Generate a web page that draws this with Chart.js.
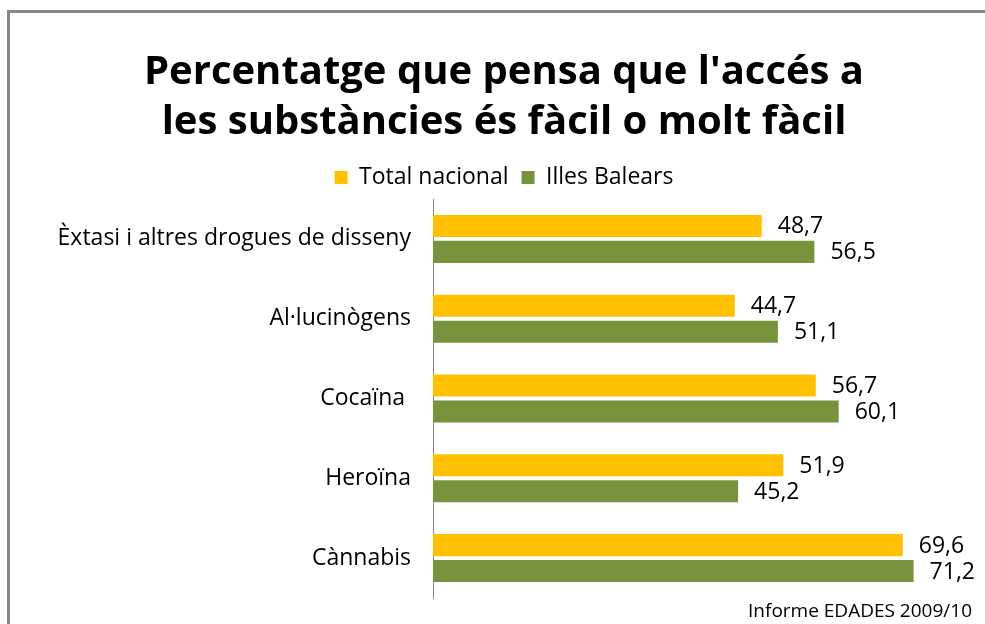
<!DOCTYPE html>
<html>
<head>
<meta charset="utf-8">
<script src="https://cdn.jsdelivr.net/npm/chart.js@4"></script>
<style>
  html, body { margin: 0; padding: 0; background: #fff; }
  #wrap { width: 985px; height: 624px; position: relative; }
</style>
</head>
<body>
<div id="wrap"><canvas id="chart"></canvas></div>
<script>
// Data
const categories = ['Èxtasi i altres drogues de disseny', 'Al·lucinògens', 'Cocaïna ', 'Heroïna', 'Cànnabis'];
const totalNacional = [48.7, 44.7, 56.7, 51.9, 69.6];
const illesBalears = [56.5, 51.1, 60.1, 45.2, 71.2];
const seriesNames = ['Total nacional', 'Illes Balears'];
const sourceNote = 'Informe EDADES 2009/10';

const fontFamily = "'Open Sans', 'Noto Sans', sans-serif";

// Frame lines (top and left only) and the source note at bottom right
const framePlugin = {
    id: 'frame',
    beforeDraw(chart) {
        const ctx = chart.ctx;
        ctx.save();
        ctx.fillStyle = '#ffffff';
        ctx.fillRect(0, 0, chart.width, chart.height);
        ctx.strokeStyle = '#868686';
        ctx.lineWidth = 3;
        ctx.beginPath();
        ctx.moveTo(8.5, chart.height);
        ctx.lineTo(8.5, 11.5);
        ctx.lineTo(chart.width, 11.5);
        ctx.stroke();
        ctx.restore();
    },
    afterDraw(chart) {
        const ctx = chart.ctx;
        ctx.save();
        ctx.font = '19px ' + fontFamily;
        ctx.fillStyle = '#000';
        ctx.textAlign = 'right';
        ctx.textBaseline = 'middle';
        ctx.fillText(sourceNote, 972, 612);
        ctx.restore();
    }
};

// Value labels after each bar, with decimal comma
const valueLabels = {
    id: 'valueLabels',
    afterDatasetsDraw(chart) {
        const ctx = chart.ctx;
        ctx.save();
        ctx.font = '23px ' + fontFamily;
        ctx.fillStyle = '#000';
        ctx.textBaseline = 'middle';
        ctx.textAlign = 'left';
        chart.data.datasets.forEach(function(ds, i) {
            chart.getDatasetMeta(i).data.forEach(function(bar, j) {
                const txt = ds.data[j].toFixed(1).replace('.', ',');
                ctx.fillText(txt, bar.x + 16, bar.y + 1);
            });
        });
        ctx.restore();
    }
};

new Chart(document.getElementById('chart'), {
    type: 'bar',
    data: {
        labels: categories,
        datasets: [{
            label: seriesNames[0],
            data: totalNacional,
            backgroundColor: '#FFC000',
            categoryPercentage: 0.65,
            barPercentage: 0.85
        }, {
            label: seriesNames[1],
            data: illesBalears,
            backgroundColor: '#77933C',
            categoryPercentage: 0.65,
            barPercentage: 0.85
        }]
    },
    options: {
        indexAxis: 'y',
        responsive: true,
        maintainAspectRatio: false,
        animation: false,
        layout: {
            padding: { left: 35, right: 12, top: 48, bottom: 26 }
        },
        plugins: {
            title: {
                display: true,
                text: ["Percentatge que pensa que l'accés a", 'les substàncies és fàcil o molt fàcil'],
                color: '#000',
                font: { family: fontFamily, size: 40, weight: 'bold', lineHeight: 1.25 },
                padding: { top: 0, bottom: 5 }
            },
            legend: {
                display: true,
                labels: {
                    color: '#000',
                    font: { family: fontFamily, size: 23 },
                    boxWidth: 13,
                    boxHeight: 13,
                    padding: 13
                }
            },
            tooltip: { enabled: false }
        },
        scales: {
            x: {
                min: 0,
                max: 80,
                display: false
            },
            y: {
                grid: { display: false, drawTicks: false },
                border: { display: true, color: '#868686', width: 1 },
                ticks: {
                    color: '#000',
                    font: { family: fontFamily, size: 23 },
                    padding: 22
                },
                afterFit: function(scale) {
                    scale.width = 398;
                    scale.paddingTop = 0;
                    scale.paddingBottom = 0;
                }
            }
        }
    },
    plugins: [framePlugin, valueLabels]
});
</script>
</body>
</html>
